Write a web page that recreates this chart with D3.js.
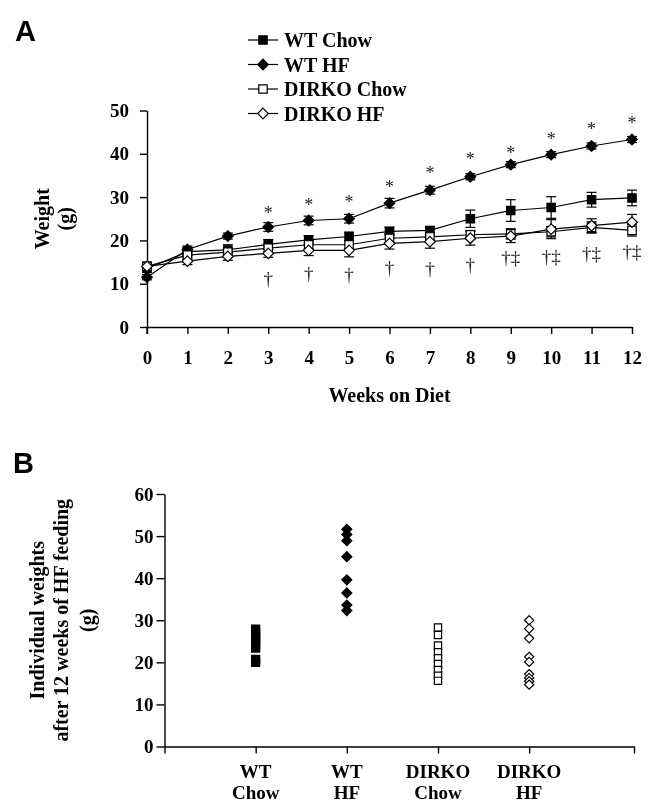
<!DOCTYPE html>
<html>
<head>
<meta charset="utf-8">
<script src="https://cdn.jsdelivr.net/npm/d3@7"></script>
<style>
  body { margin: 0; background: #fff; }
  svg { filter: grayscale(100%); }
  svg text { font-family: "Liberation Serif", "Times New Roman", serif; font-weight: bold; fill: #000; }
  .panel-letter { font-family: "Liberation Sans", Arial, sans-serif; font-size: 29px; }
</style>
</head>
<body>
<div id="chart"></div>
<script>
// ---- panel A data: mean weight (g) by week ----
const weeks = [0, 1, 2, 3, 4, 5, 6, 7, 8, 9, 10, 11, 12];
const wtChow = [13.5, 17.4, 17.8, 19.1, 20.1, 20.9, 22.1, 22.3, 25.0, 26.9, 27.6, 29.4, 29.8];
const wtChowSE = [0.8, 1.0, 1.2, 1.1, 1.0, 1.0, 0.9, 0.9, 2.0, 2.5, 2.5, 1.7, 1.8];
const wtHf = [11.5, 17.9, 21.0, 23.1, 24.6, 25.0, 28.6, 31.6, 34.7, 37.5, 39.8, 41.8, 43.3];
const wtHfSE = [0.6, 0.8, 0.7, 1.0, 1.0, 1.0, 1.1, 0.9, 0.7, 0.7, 0.7, 0.7, 0.7];
const dirkoChow = [14.0, 16.6, 17.3, 18.2, 19.0, 19.0, 20.5, 20.8, 21.3, 21.5, 22.0, 23.0, 22.3];
const dirkoChowSE = [1.0, 1.0, 0.9, 1.0, 1.0, 1.0, 1.0, 1.0, 1.0, 1.2, 1.2, 1.3, 1.3];
const dirkoHf = [14.0, 15.2, 16.3, 17.0, 17.7, 17.7, 19.3, 19.7, 20.5, 21.0, 22.6, 23.4, 24.2];
const dirkoHfSE = [0.8, 0.8, 0.9, 0.9, 1.2, 1.5, 1.3, 1.5, 1.6, 1.5, 2.2, 1.6, 1.8];

const starWeeks = [3, 4, 5, 6, 7, 8, 9, 10, 11, 12];
const starAt = [27.0, 28.9, 29.5, 33.1, 36.2, 39.4, 40.8, 44.0, 46.4, 47.7];
const daggerWeeks = [3, 4, 5, 6, 7, 8, 9, 10, 11, 12];
const daggerAt = [10.8, 11.9, 11.7, 13.5, 13.1, 14.2, 15.6, 16.0, 16.6, 17.1];
const daggerMarks = ['†', '†', '†', '†', '†', '†', '†‡', '†‡', '†‡', '†‡'];

const yTicksA = [0, 10, 20, 30, 40, 50];

// ---- panel B data: individual weights after 12 weeks (g) ----
const groups = ['WT Chow', 'WT HF', 'DIRKO Chow', 'DIRKO HF'];
const groupLabels = [['WT', 'Chow'], ['WT', 'HF'], ['DIRKO', 'Chow'], ['DIRKO', 'HF']];
const indWtChow = [27.9, 27.0, 26.1, 25.2, 24.3, 23.4, 20.7, 20.0];
const indWtHf = [51.6, 50.4, 48.9, 45.1, 39.6, 36.5, 33.6, 32.3];
const indDirkoChow = [28.3, 26.5, 24.0, 22.4, 21.0, 19.6, 18.2, 16.8, 15.6];
const indDirkoHf = [30.0, 28.0, 25.7, 21.3, 20.1, 17.2, 16.3, 15.5, 14.7];
const yTicksB = [0, 10, 20, 30, 40, 50, 60];

// marker shapes
const squarePath = s => `M${-s},${-s}H${s}V${s}H${-s}Z`;
const diamondPath = s => `M0,${-s}L${s},0L0,${s}L${-s},0Z`;

const seriesA = [
  { name: 'WT Chow', values: wtChow, se: wtChowSE, shape: squarePath(4.2), fill: '#000' },
  { name: 'WT HF', values: wtHf, se: wtHfSE, shape: diamondPath(5.3), fill: '#000' },
  { name: 'DIRKO Chow', values: dirkoChow, se: dirkoChowSE, shape: squarePath(4.2), fill: '#fff' },
  { name: 'DIRKO HF', values: dirkoHf, se: dirkoHfSE, shape: diamondPath(5.3), fill: '#fff' }
];

const svg = d3.select('#chart').append('svg')
  .attr('width', 654)
  .attr('height', 803);

// ================= PANEL A =================
svg.append('text').attr('class', 'panel-letter').attr('x', 15).attr('y', 41).text('A');

const xA = d3.scaleLinear().domain([0, 12]).range([147, 632]);
const yA = d3.scaleLinear().domain([0, 50]).range([327, 110.5]);

const axA = svg.append('g');
axA.append('g')
  .attr('transform', `translate(0,${yA(0)})`)
  .call(d3.axisBottom(xA).tickValues(weeks).tickFormat(d3.format('d')).tickSize(7).tickSizeOuter(0).tickPadding(17));
axA.append('g')
  .attr('transform', `translate(${xA(0)},0)`)
  .call(d3.axisLeft(yA).tickValues(yTicksA).tickSize(7).tickSizeOuter(0).tickPadding(11));
axA.selectAll('.domain, .tick line').attr('stroke', '#000').attr('stroke-width', 1.4);
axA.selectAll('.tick text').style('font-family', '"Liberation Serif", serif').style('font-size', '19px').style('font-weight', 'bold');
// small extension of y axis below origin
axA.append('line')
  .attr('x1', xA(0)).attr('x2', xA(0))
  .attr('y1', yA(0)).attr('y2', yA(0) + 7)
  .attr('stroke', '#000').attr('stroke-width', 1.4);

svg.append('text')
  .attr('x', (xA(0) + xA(12)) / 2).attr('y', 402)
  .attr('text-anchor', 'middle').style('font-size', '20px')
  .text('Weeks on Diet');

svg.append('text')
  .attr('transform', `translate(49,${(yA(0) + yA(50)) / 2}) rotate(-90)`)
  .attr('text-anchor', 'middle').style('font-size', '20px')
  .text('Weight');
svg.append('text')
  .attr('transform', `translate(72,${(yA(0) + yA(50)) / 2}) rotate(-90)`)
  .attr('text-anchor', 'middle').style('font-size', '20px')
  .text('(g)');

const line = d3.line().x((d, i) => xA(weeks[i])).y(d => yA(d));

const plotA = svg.append('g');
seriesA.forEach(s => {
  plotA.append('path')
    .datum(s.values)
    .attr('d', line)
    .attr('fill', 'none')
    .attr('stroke', '#000')
    .attr('stroke-width', 1.2);
});
seriesA.forEach(s => {
  const eb = plotA.append('g').selectAll('g')
    .data(s.values.map((v, i) => ({ w: weeks[i], v, e: s.se[i] })))
    .enter().append('g');
  eb.append('line')
    .attr('x1', d => xA(d.w)).attr('x2', d => xA(d.w))
    .attr('y1', d => yA(d.v - d.e)).attr('y2', d => yA(d.v + d.e));
  eb.append('line')
    .attr('x1', d => xA(d.w) - 5).attr('x2', d => xA(d.w) + 5)
    .attr('y1', d => yA(d.v + d.e)).attr('y2', d => yA(d.v + d.e));
  eb.append('line')
    .attr('x1', d => xA(d.w) - 5).attr('x2', d => xA(d.w) + 5)
    .attr('y1', d => yA(d.v - d.e)).attr('y2', d => yA(d.v - d.e));
  eb.selectAll('line').attr('stroke', '#000').attr('stroke-width', 1.2);
});
seriesA.forEach(s => {
  plotA.append('g').selectAll('path')
    .data(s.values)
    .enter().append('path')
    .attr('d', s.shape)
    .attr('transform', (d, i) => `translate(${xA(weeks[i])},${yA(d)})`)
    .attr('fill', s.fill)
    .attr('stroke', '#000')
    .attr('stroke-width', 1.2);
});

// significance marks
svg.append('g').selectAll('text')
  .data(starWeeks)
  .enter().append('text')
  .attr('x', d => xA(d))
  .attr('y', (d, i) => yA(starAt[i]) + 9)
  .attr('text-anchor', 'middle')
  .style('font-size', '18px').style('font-weight', 'normal').style('fill', '#222')
  .text('*');
svg.append('g').selectAll('text')
  .data(daggerWeeks)
  .enter().append('text')
  .attr('x', d => xA(d))
  .attr('y', (d, i) => yA(daggerAt[i]) + 5)
  .attr('text-anchor', 'middle')
  .style('font-size', '19px').style('font-weight', 'normal').style('fill', '#222')
  .text((d, i) => daggerMarks[i]);

// legend
const legend = svg.append('g').attr('transform', 'translate(248,40)');
const lg = legend.selectAll('g')
  .data(seriesA)
  .enter().append('g')
  .attr('transform', (d, i) => `translate(0,${i * 24.5})`);
lg.append('line').attr('x1', 0).attr('x2', 30).attr('y1', 0).attr('y2', 0)
  .attr('stroke', '#000').attr('stroke-width', 1.2);
lg.append('path').attr('d', d => d.shape).attr('transform', 'translate(15,0)')
  .attr('fill', d => d.fill).attr('stroke', '#000').attr('stroke-width', 1.2);
lg.append('text').attr('x', 36).attr('y', 7).style('font-size', '20px').text(d => d.name);

// ================= PANEL B =================
svg.append('text').attr('class', 'panel-letter').attr('x', 13).attr('y', 473).text('B');

const xB = d3.scaleLinear().domain([0, 5.15]).range([164.5, 634]);
const yB = d3.scaleLinear().domain([0, 60]).range([746.5, 494]);

const axB = svg.append('g');
axB.append('g')
  .attr('transform', `translate(0,${yB(0)})`)
  .call(d3.axisBottom(xB).tickValues([1, 2, 3, 4]).tickFormat('').tickSize(7).tickSizeOuter(7));
axB.append('g')
  .attr('transform', `translate(${xB(0)},0)`)
  .call(d3.axisLeft(yB).tickValues(yTicksB).tickSize(8).tickSizeOuter(0).tickPadding(3));
axB.selectAll('.domain, .tick line').attr('stroke', '#000').attr('stroke-width', 1.4);
axB.selectAll('.tick text').style('font-family', '"Liberation Serif", serif').style('font-size', '19px').style('font-weight', 'bold');

const catLabels = svg.append('g').selectAll('text')
  .data(groupLabels)
  .enter().append('text')
  .attr('x', (d, i) => xB(i + 1))
  .attr('y', 778)
  .attr('text-anchor', 'middle')
  .style('font-size', '19px');
catLabels.append('tspan').attr('x', (d, i) => xB(i + 1)).text(d => d[0]);
catLabels.append('tspan').attr('x', (d, i) => xB(i + 1)).attr('dy', 21).text(d => d[1]);

const yLabB = svg.append('text')
  .attr('transform', `translate(0,${(yB(0) + yB(60)) / 2}) rotate(-90)`)
  .attr('text-anchor', 'middle')
  .style('font-size', '20px');
yLabB.append('tspan').attr('x', 0).attr('y', 44).text('Individual weights');
yLabB.append('tspan').attr('x', 0).attr('y', 68).text('after 12 weeks of HF feeding');
yLabB.append('tspan').attr('x', 0).attr('y', 94).text('(g)');

const seriesB = [
  { values: indWtChow, shape: squarePath(4), fill: '#000' },
  { values: indWtHf, shape: diamondPath(5), fill: '#000' },
  { values: indDirkoChow, shape: squarePath(3.6), fill: '#fff' },
  { values: indDirkoHf, shape: diamondPath(4.6), fill: '#fff' }
];
seriesB.forEach((s, gi) => {
  svg.append('g').selectAll('path')
    .data(s.values)
    .enter().append('path')
    .attr('d', s.shape)
    .attr('transform', d => `translate(${xB(gi + 1)},${yB(d)})`)
    .attr('fill', s.fill)
    .attr('stroke', '#000')
    .attr('stroke-width', 1.2);
});
</script>
</body>
</html>
